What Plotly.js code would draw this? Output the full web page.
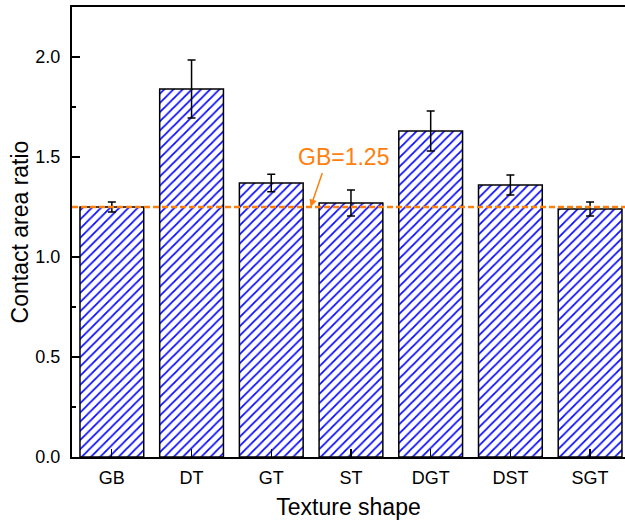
<!DOCTYPE html>
<html>
<head>
<meta charset="utf-8">
<script src="https://cdn.plot.ly/plotly-3.0.1.min.js"></script>
<style>html,body{margin:0;padding:0;background:#fff;}#chart{width:625px;height:522px;}</style>
</head>
<body>
<div id="chart"></div>
<script>
const categories = ["GB", "DT", "GT", "ST", "DGT", "DST", "SGT"];
const ratios = [1.25, 1.84, 1.37, 1.27, 1.63, 1.36, 1.24];
const errors = [0.025, 0.145, 0.044, 0.065, 0.10, 0.05, 0.035];
const gbRef = 1.25;
const refLabel = "GB=1.25";

const font = "Liberation Sans, Arial, sans-serif";
const orange = "#ff7f0e";

const trace = {
  type: "bar",
  x: categories,
  y: ratios,
  width: 0.8,
  marker: {
    color: "#ffffff",
    line: {color: "#000000", width: 1.5},
    pattern: {shape: "/", fgcolor: "#0a0aff", bgcolor: "#ffffff", size: 6.5, solidity: 0.27}
  },
  error_y: {type: "data", array: errors, visible: true, color: "#000000", thickness: 1.5, width: 4}
};

const layout = {
  width: 625, height: 522,
  margin: {l: 72, r: 0, t: 7, b: 65},
  paper_bgcolor: "#ffffff", plot_bgcolor: "#ffffff",
  showlegend: false,
  font: {family: font, color: "#000000", size: 18},
  xaxis: {
    type: "category",
    range: [-0.5, 6.438],
    showline: true, linecolor: "#000000", linewidth: 2, mirror: true,
    ticks: "inside", ticklen: 8, tickwidth: 1.2, tickcolor: "#000000",
    showgrid: false, zeroline: false,
    tickfont: {family: font, size: 18},
    ticklabelstandoff: 3,
    title: {text: "Texture shape", font: {family: font, size: 23}, standoff: 12}
  },
  yaxis: {
    range: [0, 2.25],
    tickvals: [0, 0.5, 1.0, 1.5, 2.0],
    ticktext: ["0.0", "0.5", "1.0", "1.5", "2.0"],
    showline: true, linecolor: "#000000", linewidth: 2, mirror: false,
    ticks: "inside", ticklen: 8, tickwidth: 1.2, tickcolor: "#000000",
    minor: {tickvals: [0.25, 0.75, 1.25, 1.75], ticks: "inside", ticklen: 4, tickwidth: 1.2, tickcolor: "#000000"},
    showgrid: false, zeroline: false,
    tickfont: {family: font, size: 18},
    ticklabelstandoff: 6,
    title: {text: "Contact area ratio", font: {family: font, size: 23}, standoff: 0}
  },
  shapes: [{
    type: "line", xref: "paper", yref: "y",
    x0: 0, x1: 1, y0: gbRef, y1: gbRef,
    line: {color: orange, width: 2.5, dash: "6px,3px"}
  }],
  annotations: [{
    xref: "x", yref: "y",
    x: 2.494, y: gbRef,
    ax: 13, ay: -38,
    text: " ",
    showarrow: true, arrowhead: 2, arrowsize: 1, arrowwidth: 1.5, arrowcolor: orange,
    font: {family: font, size: 4, color: orange}
  }, {
    xref: "x", yref: "y",
    x: 2.908, y: 1.502,
    text: refLabel,
    showarrow: false,
    xanchor: "center", yanchor: "middle",
    font: {family: font, size: 23, color: orange}
  }]
};

Plotly.newPlot("chart", [trace], layout, {displayModeBar: false, staticPlot: true});
</script>
</body>
</html>
